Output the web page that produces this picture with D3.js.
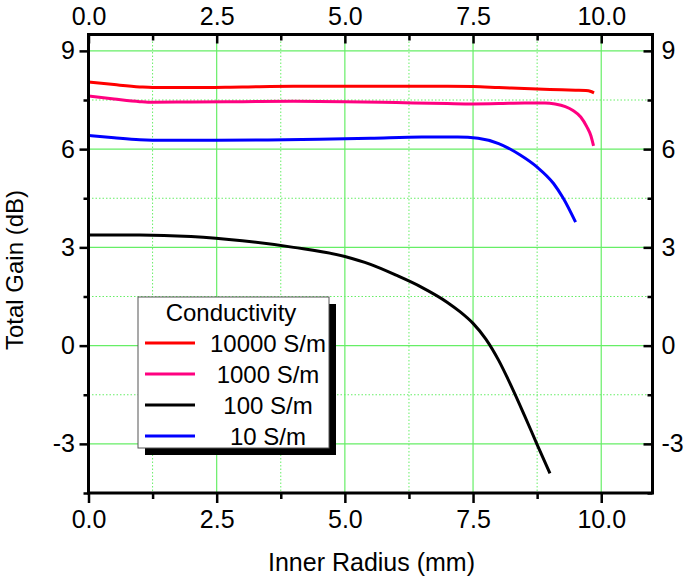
<!DOCTYPE html>
<html>
<head>
<meta charset="utf-8">
<script src="https://cdn.jsdelivr.net/npm/d3@7/dist/d3.min.js"></script>
<style>
  html, body { margin: 0; padding: 0; background: #fff; }
  svg { display: block; font-family: "Liberation Sans", Arial, sans-serif; }
</style>
</head>
<body>
<svg id="chart" width="685" height="577"></svg>
<script>
// ---- data ----
const seriesNames = ["10000 S/m", "1000 S/m", "100 S/m", "10 S/m"];
const seriesColors = ["#ff0000", "#ff0080", "#000000", "#0000ff"];

const r10000 = [0, 0.5, 1, 1.25, 2, 3, 4, 5, 6, 7, 7.5, 8, 8.5, 9, 9.5, 9.7, 9.8, 9.86];
const g10000 = [8.05, 7.97, 7.9, 7.88, 7.88, 7.9, 7.92, 7.92, 7.92, 7.92, 7.91, 7.88, 7.85, 7.82, 7.8, 7.79, 7.76, 7.72];

const r1000 = [0, 0.5, 1, 1.25, 2, 3, 4, 5, 6, 7, 7.5, 8, 8.5, 8.9, 9.1, 9.3, 9.45, 9.6, 9.72, 9.8, 9.85];
const g1000 = [7.62, 7.53, 7.45, 7.43, 7.44, 7.45, 7.46, 7.45, 7.42, 7.39, 7.38, 7.39, 7.41, 7.41, 7.38, 7.3, 7.18, 6.98, 6.68, 6.4, 6.1];

const r100 = [0, 1, 2, 3, 4, 5, 5.5, 6, 6.5, 7, 7.25, 7.5, 7.75, 8, 8.25, 8.5, 8.75, 9];
const g100 = [3.38, 3.38, 3.33, 3.2, 3.0, 2.72, 2.48, 2.15, 1.78, 1.32, 1.03, 0.68, 0.2, -0.45, -1.25, -2.12, -3.02, -3.9];

const r10 = [0, 0.5, 1, 1.5, 2.5, 3.5, 4.5, 5.5, 6.5, 7.2, 7.6, 8, 8.42, 8.75, 9.07, 9.26, 9.5];
const g10 = [6.42, 6.35, 6.29, 6.27, 6.27, 6.28, 6.3, 6.33, 6.37, 6.37, 6.33, 6.17, 5.82, 5.45, 4.95, 4.5, 3.77];

const xTicks = [0, 2.5, 5, 7.5, 10];
const xMinor = [1.25, 3.75, 6.25, 8.75];
const yTicks = [-3, 0, 3, 6, 9];
const yMinor = [-4.5, -1.5, 1.5, 4.5, 7.5];

const xLabel = "Inner Radius (mm)";
const yLabel = "Total Gain (dB)";
const legendTitle = "Conductivity";

// ---- layout ----
const L = 88.5, R = 652.5, T = 34.5, B = 493;
const svg = d3.select("#chart");
const x = d3.scaleLinear().domain([0, 11]).range([L, R]);
const y = d3.scaleLinear().domain([-4.5, 9.5]).range([B, T]);

const gridColor = "#66ee66";
const font = 25;

// grid
const grid = svg.append("g");
grid.selectAll(".gx").data(xTicks.filter(d => d > 0)).join("line")
  .attr("x1", d => x(d)).attr("x2", d => x(d)).attr("y1", T).attr("y2", B)
  .attr("stroke", gridColor).attr("stroke-width", 1.2);
grid.selectAll(".gxm").data(xMinor).join("line")
  .attr("x1", d => x(d)).attr("x2", d => x(d)).attr("y1", T).attr("y2", B)
  .attr("stroke", gridColor).attr("stroke-width", 1).attr("stroke-dasharray", "1.5,2");
grid.selectAll(".gy").data(yTicks).join("line")
  .attr("x1", L).attr("x2", R).attr("y1", d => y(d)).attr("y2", d => y(d))
  .attr("stroke", gridColor).attr("stroke-width", 1.2);
grid.selectAll(".gym").data(yMinor.filter(d => d > -4.5)).join("line")
  .attr("x1", L).attr("x2", R).attr("y1", d => y(d)).attr("y2", d => y(d))
  .attr("stroke", gridColor).attr("stroke-width", 1).attr("stroke-dasharray", "1.5,2");

// curves
const seriesR = [r10000, r1000, r100, r10];
const seriesG = [g10000, g1000, g100, g10];
const line = d3.line().x(d => x(d[0])).y(d => y(d[1])).curve(d3.curveMonotoneX);
const order = [3, 2, 1, 0];
order.forEach(i => {
  const pts = seriesR[i].map((r, k) => [r, seriesG[i][k]]);
  svg.append("path").datum(pts).attr("d", line)
    .attr("fill", "none").attr("stroke", seriesColors[i]).attr("stroke-width", 3)
    .attr("stroke-linejoin", "round").attr("stroke-linecap", "butt");
});

// axes
function styleAxis(g) {
  g.select(".domain").remove();
  g.selectAll(".tick line").attr("stroke", "#000").attr("stroke-width", 2.5);
  g.selectAll(".tick text").attr("font-size", font).attr("fill", "#000")
    .attr("font-family", "'Liberation Sans', Arial, sans-serif");
}
const fmtX = d3.format(".1f");
const fmtY = d => String(d);

svg.append("g").attr("transform", `translate(0,${B})`)
  .call(d3.axisBottom(x).tickValues(xTicks).tickFormat(fmtX).tickSize(10).tickPadding(7)).call(styleAxis);
svg.append("g").attr("transform", `translate(0,${B})`)
  .call(d3.axisBottom(x).tickValues(xMinor).tickFormat("").tickSize(6)).call(styleAxis);
svg.append("g").attr("transform", `translate(0,${T})`)
  .call(d3.axisTop(x).tickValues(xTicks).tickFormat(fmtX).tickSize(-9).tickPadding(10)).call(styleAxis);
svg.append("g").attr("transform", `translate(0,${T})`)
  .call(d3.axisTop(x).tickValues(xMinor).tickFormat("").tickSize(-6)).call(styleAxis);
svg.append("g").attr("transform", `translate(${L},0)`)
  .call(d3.axisLeft(y).tickValues(yTicks).tickFormat(fmtY).tickSize(9).tickPadding(4.5)).call(styleAxis);
svg.append("g").attr("transform", `translate(${L},0)`)
  .call(d3.axisLeft(y).tickValues(yMinor).tickFormat("").tickSize(5)).call(styleAxis);
svg.append("g").attr("transform", `translate(${R},0)`)
  .call(d3.axisRight(y).tickValues(yTicks).tickFormat(fmtY).tickSize(-9).tickPadding(9)).call(styleAxis);
svg.append("g").attr("transform", `translate(${R},0)`)
  .call(d3.axisRight(y).tickValues(yMinor).tickFormat("").tickSize(-5)).call(styleAxis);

// frame
svg.append("rect").attr("x", L).attr("y", T).attr("width", R - L).attr("height", B - T)
  .attr("fill", "none").attr("stroke", "#000").attr("stroke-width", 3);

// axis titles
svg.append("text").attr("x", (L + R) / 2 + 1).attr("y", 571).attr("text-anchor", "middle")
  .attr("font-size", font).text(xLabel);
svg.append("text").attr("transform", `translate(23,${270}) rotate(-90)`).attr("text-anchor", "middle")
  .attr("font-size", 24).text(yLabel);

// legend
const lg = svg.append("g");
const lx = 138, ly = 297, lw = 191, lh = 151;
lg.append("rect").attr("x", lx + 7).attr("y", ly + 7).attr("width", lw).attr("height", lh).attr("fill", "#000");
lg.append("rect").attr("x", lx).attr("y", ly).attr("width", lw).attr("height", lh)
  .attr("fill", "#fff").attr("stroke", "#555").attr("stroke-width", 1);
lg.append("text").attr("x", 231).attr("y", 321).attr("text-anchor", "middle").attr("font-size", 24).text(legendTitle);
seriesNames.forEach((name, i) => {
  const yy = 343 + i * 31;
  lg.append("line").attr("x1", 145).attr("x2", 195).attr("y1", yy).attr("y2", yy)
    .attr("stroke", seriesColors[i]).attr("stroke-width", 3);
  lg.append("text").attr("x", 268).attr("y", yy + 8.7).attr("text-anchor", "middle")
    .attr("font-size", 24).text(name);
});
</script>
</body>
</html>
